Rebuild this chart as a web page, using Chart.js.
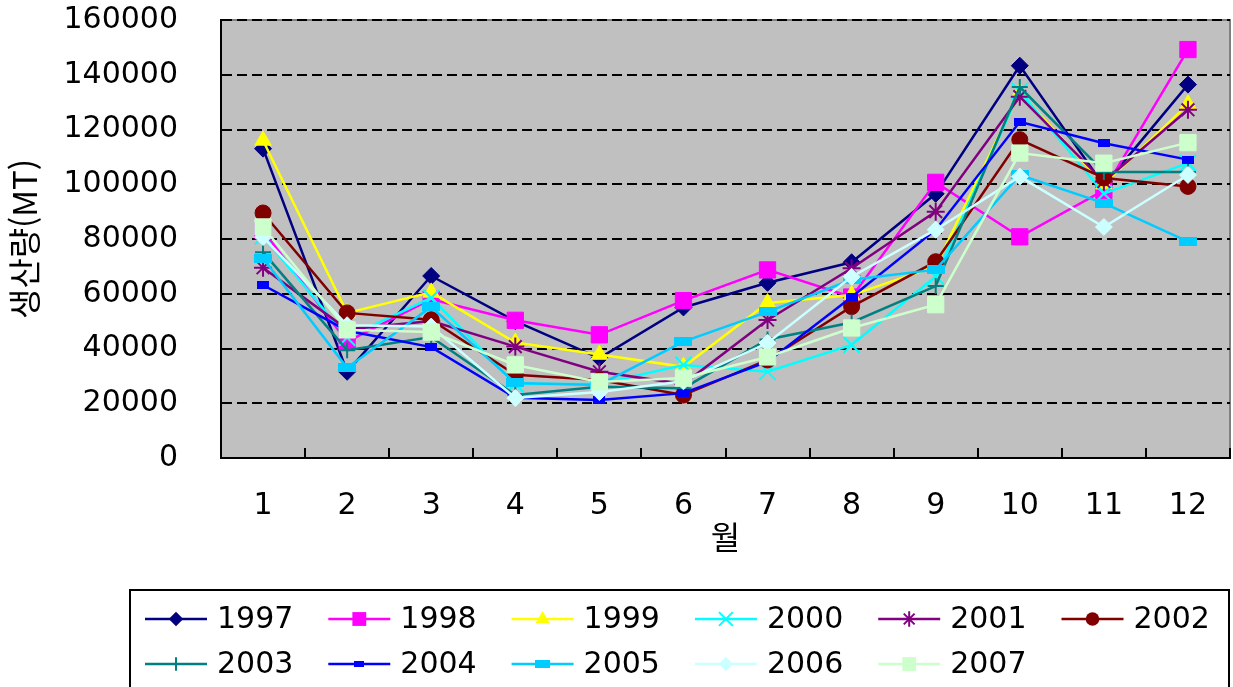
<!DOCTYPE html>
<html lang="ko">
<head>
<meta charset="utf-8">
<title>월별 생산량</title>
<script src="https://cdn.jsdelivr.net/npm/chart.js@4.4.1/dist/chart.umd.min.js"></script>
<style>
  html, body { margin: 0; padding: 0; background: #fff; }
  #wrap { width: 1233px; height: 687px; }
</style>
</head>
<body>
<div id="wrap"><canvas id="chart" width="1233" height="687"></canvas></div>
<script>
(function () {
  'use strict';

  var months = ['1', '2', '3', '4', '5', '6', '7', '8', '9', '10', '11', '12'];
  var years = ['1997', '1998', '1999', '2000', '2001', '2002', '2003', '2004', '2005', '2006', '2007'];
  var yMin = 0, yMax = 160000, yStep = 20000;

  // production per month (MT)
  var v1997 = [113000, 31500, 66500, 50000, 36500, 55000, 64000, 71500, 96500, 143300, 99500, 136400];
  var v1998 = [83000, 42500, 58000, 50300, 45000, 57500, 68700, 58800, 100700, 80800, 97800, 149200];
  var v1999 = [116000, 53000, 60500, 42200, 37800, 33300, 56600, 59500, 70000, 133500, 100000, 129200];
  var v2000 = [81000, 44000, 58500, 27000, 27000, 34000, 31500, 41300, 66300, 134000, 96600, 107700];
  var v2001 = [69500, 47000, 50000, 40700, 31500, 27000, 50400, 69300, 90000, 132000, 101000, 127200];
  var v2002 = [89500, 53000, 50500, 30400, 28500, 23000, 35800, 55300, 71700, 116300, 102300, 99200];
  var v2003 = [75200, 39400, 44200, 23000, 26000, 25500, 43300, 49500, 62800, 135500, 104500, 104500];
  var v2004 = [63200, 46500, 40500, 22000, 21200, 23700, 35200, 58800, 83400, 122800, 115000, 109000];
  var v2005 = [73000, 33000, 55200, 27400, 26700, 42500, 53400, 65100, 68800, 103400, 93100, 79000];
  var v2006 = [80700, 48500, 48000, 21900, 24100, 28000, 42000, 66200, 83400, 102800, 84400, 103400];
  var v2007 = [84400, 46800, 46000, 34000, 27800, 29200, 36900, 47500, 56000, 111400, 107700, 115200];
  var values = [v1997, v1998, v1999, v2000, v2001, v2002, v2003, v2004, v2005, v2006, v2007];

  // small flat rectangles used as markers by 2004 and 2005
  function bar(w, h, color) {
    var c = document.createElement('canvas');
    c.width = w; c.height = h;
    var g = c.getContext('2d');
    g.fillStyle = color;
    g.fillRect(0, 0, w, h);
    return c;
  }

  var colors = ['#000080', '#ff00ff', '#ffff00', '#00ffff', '#800080', '#800000',
                '#008080', '#0000ff', '#00ccff', '#ccffff', '#ccffcc'];
  var marks = [
    {style: 'rectRot', r: 8.5, bw: 1},
    {style: 'rect', r: 11.5, bw: 1},
    {style: 'triangle', r: 9.5, bw: 1},
    {style: 'crossRot', r: 11.5, bw: 2},
    {style: 'star', r: 9, bw: 2},
    {style: 'circle', r: 8, bw: 1},
    {style: 'cross', r: 8, bw: 2},
    {style: bar(12, 8, '#0000ff'), r: 6, bw: 1},
    {style: bar(18, 9, '#00ccff'), r: 9, bw: 1},
    {style: 'rectRot', r: 8.5, bw: 1},
    {style: 'rect', r: 11.5, bw: 1}
  ];

  var font = 'DejaVu Sans';

  var datasets = years.map(function (y, i) {
    return {
      label: y,
      data: values[i],
      borderColor: colors[i],
      backgroundColor: colors[i],
      borderWidth: 2.5,
      tension: 0,
      fill: false,
      pointStyle: marks[i].style,
      pointRadius: marks[i].r,
      pointBackgroundColor: colors[i],
      pointBorderColor: colors[i],
      pointBorderWidth: marks[i].bw,
      order: years.length - i   // later years on top, like the original
    };
  });

  // marker for the legend
  function drawMark(ctx, m, color, x, y, k) {
    var r = m.r * k;
    ctx.save();
    ctx.fillStyle = color;
    ctx.strokeStyle = color;
    ctx.lineWidth = m.bw;
    if (typeof m.style !== 'string') {
      var w = m.style.width * k, h = m.style.height * k;
      ctx.drawImage(m.style, x - w / 2, y - h / 2, w, h);
      ctx.restore();
      return;
    }
    var d = r * Math.SQRT1_2;
    ctx.beginPath();
    switch (m.style) {
      case 'rectRot':
        ctx.moveTo(x, y - r); ctx.lineTo(x + r, y); ctx.lineTo(x, y + r); ctx.lineTo(x - r, y);
        ctx.closePath(); ctx.fill();
        break;
      case 'rect':
        ctx.rect(x - d, y - d, 2 * d, 2 * d); ctx.fill();
        break;
      case 'triangle':
        ctx.moveTo(x, y - r); ctx.lineTo(x + r * 0.866, y + r / 2); ctx.lineTo(x - r * 0.866, y + r / 2);
        ctx.closePath(); ctx.fill();
        break;
      case 'circle':
        ctx.arc(x, y, r, 0, Math.PI * 2); ctx.fill();
        break;
      case 'cross':
        ctx.moveTo(x - r, y); ctx.lineTo(x + r, y); ctx.moveTo(x, y - r); ctx.lineTo(x, y + r); ctx.stroke();
        break;
      case 'crossRot':
        ctx.moveTo(x - d, y - d); ctx.lineTo(x + d, y + d); ctx.moveTo(x + d, y - d); ctx.lineTo(x - d, y + d); ctx.stroke();
        break;
      case 'star':
        ctx.moveTo(x, y - r); ctx.lineTo(x, y + r);
        ctx.moveTo(x - d, y - d); ctx.lineTo(x + d, y + d); ctx.moveTo(x + d, y - d); ctx.lineTo(x - d, y + d); ctx.stroke();
        break;
    }
    ctx.restore();
  }

  var frame = {
    id: 'frame',
    beforeDraw: function (chart) {
      var a = chart.chartArea, ctx = chart.ctx;
      ctx.save();
      ctx.fillStyle = '#ffffff';
      ctx.fillRect(0, 0, chart.width, chart.height);
      ctx.fillStyle = '#c0c0c0';
      ctx.fillRect(a.left, a.top, a.right - a.left, a.bottom - a.top);
      ctx.strokeStyle = '#808080';
      ctx.lineWidth = 2;
      ctx.strokeRect(a.left, a.top, a.right - a.left, a.bottom - a.top);
      ctx.restore();
    },
    beforeDatasetsDraw: function (chart) {
      // tick marks point into the plot
      var a = chart.chartArea, ctx = chart.ctx;
      var xs = chart.scales.x, ys = chart.scales.y;
      ctx.save();
      ctx.strokeStyle = '#000';
      ctx.lineWidth = 2;
      ctx.beginPath();
      for (var k = 0; k <= months.length; k++) {
        var px = Math.round(xs.getPixelForValue(k - 0.5));
        ctx.moveTo(px, a.bottom);
        ctx.lineTo(px, a.bottom - 10);
      }
      ys.ticks.forEach(function (t) {
        var py = Math.round(ys.getPixelForValue(t.value));
        ctx.moveTo(a.left, py);
        ctx.lineTo(a.left + 10, py);
      });
      ctx.stroke();
      ctx.restore();
    },
    afterDraw: function (chart) {
      // legend box: two rows, line + marker + year
      var ctx = chart.ctx;
      ctx.save();
      ctx.strokeStyle = '#000';
      ctx.lineWidth = 2;
      ctx.strokeRect(130, 590, 1099, 120);
      ctx.font = '30px "' + font + '"';
      ctx.textBaseline = 'middle';
      ctx.textAlign = 'left';
      years.forEach(function (y, i) {
        var col = i % 6, row = Math.floor(i / 6);
        var x0 = 145 + col * 183.3;
        var yy = 619 + row * 45;
        ctx.strokeStyle = colors[i];
        ctx.lineWidth = 2.5;
        ctx.beginPath();
        ctx.moveTo(x0, yy);
        ctx.lineTo(x0 + 62, yy);
        ctx.stroke();
        drawMark(ctx, marks[i], colors[i], x0 + 31, yy, 0.85);
        ctx.fillStyle = '#000';
        ctx.fillText(y, x0 + 72, yy + 1);
      });
      ctx.restore();
    }
  };

  new Chart(document.getElementById('chart').getContext('2d'), {
    type: 'line',
    data: {labels: months, datasets: datasets},
    plugins: [frame],
    options: {
      responsive: false,
      animation: false,
      events: [],
      layout: {autoPadding: false, padding: {left: 0, right: 3, top: 20, bottom: 127}},
      plugins: {
        legend: {display: false},
        tooltip: {enabled: false}
      },
      scales: {
        x: {
          offset: true,
          grid: {display: true, drawOnChartArea: false, drawTicks: false},
          border: {display: true, color: '#000', width: 2},
          ticks: {color: '#000', font: {family: font, size: 30}, padding: 30, maxRotation: 0, autoSkip: false},
          title: {display: true, text: '월', color: '#000',
                  font: {family: 'Noto Sans CJK KR', size: 32}, padding: {top: 0, bottom: 4}},
          afterFit: function (s) {
            s.height = 102;
            s.paddingLeft = 0;
            s.paddingRight = 0;
          }
        },
        y: {
          min: yMin,
          max: yMax,
          grid: {
            drawTicks: false,
            lineWidth: 2,
            color: function (c) { return c.tick && c.tick.value === 0 ? 'rgba(0,0,0,0)' : '#000'; }
          },
          border: {display: true, color: '#000', width: 2, dash: [10, 5]},
          ticks: {
            stepSize: yStep,
            color: '#000',
            font: {family: font, size: 30},
            padding: 43,
            callback: function (v) { return String(v); }
          },
          title: {display: true, text: '생산량(MT)', color: '#000',
                  font: {family: 'Noto Sans CJK KR', size: 33}, padding: {top: 5, bottom: 0}},
          afterFit: function (s) {
            s.width = 221;
            s.paddingTop = 0;
            s.paddingBottom = 0;
          }
        }
      }
    }
  });
})();
</script>
</body>
</html>
